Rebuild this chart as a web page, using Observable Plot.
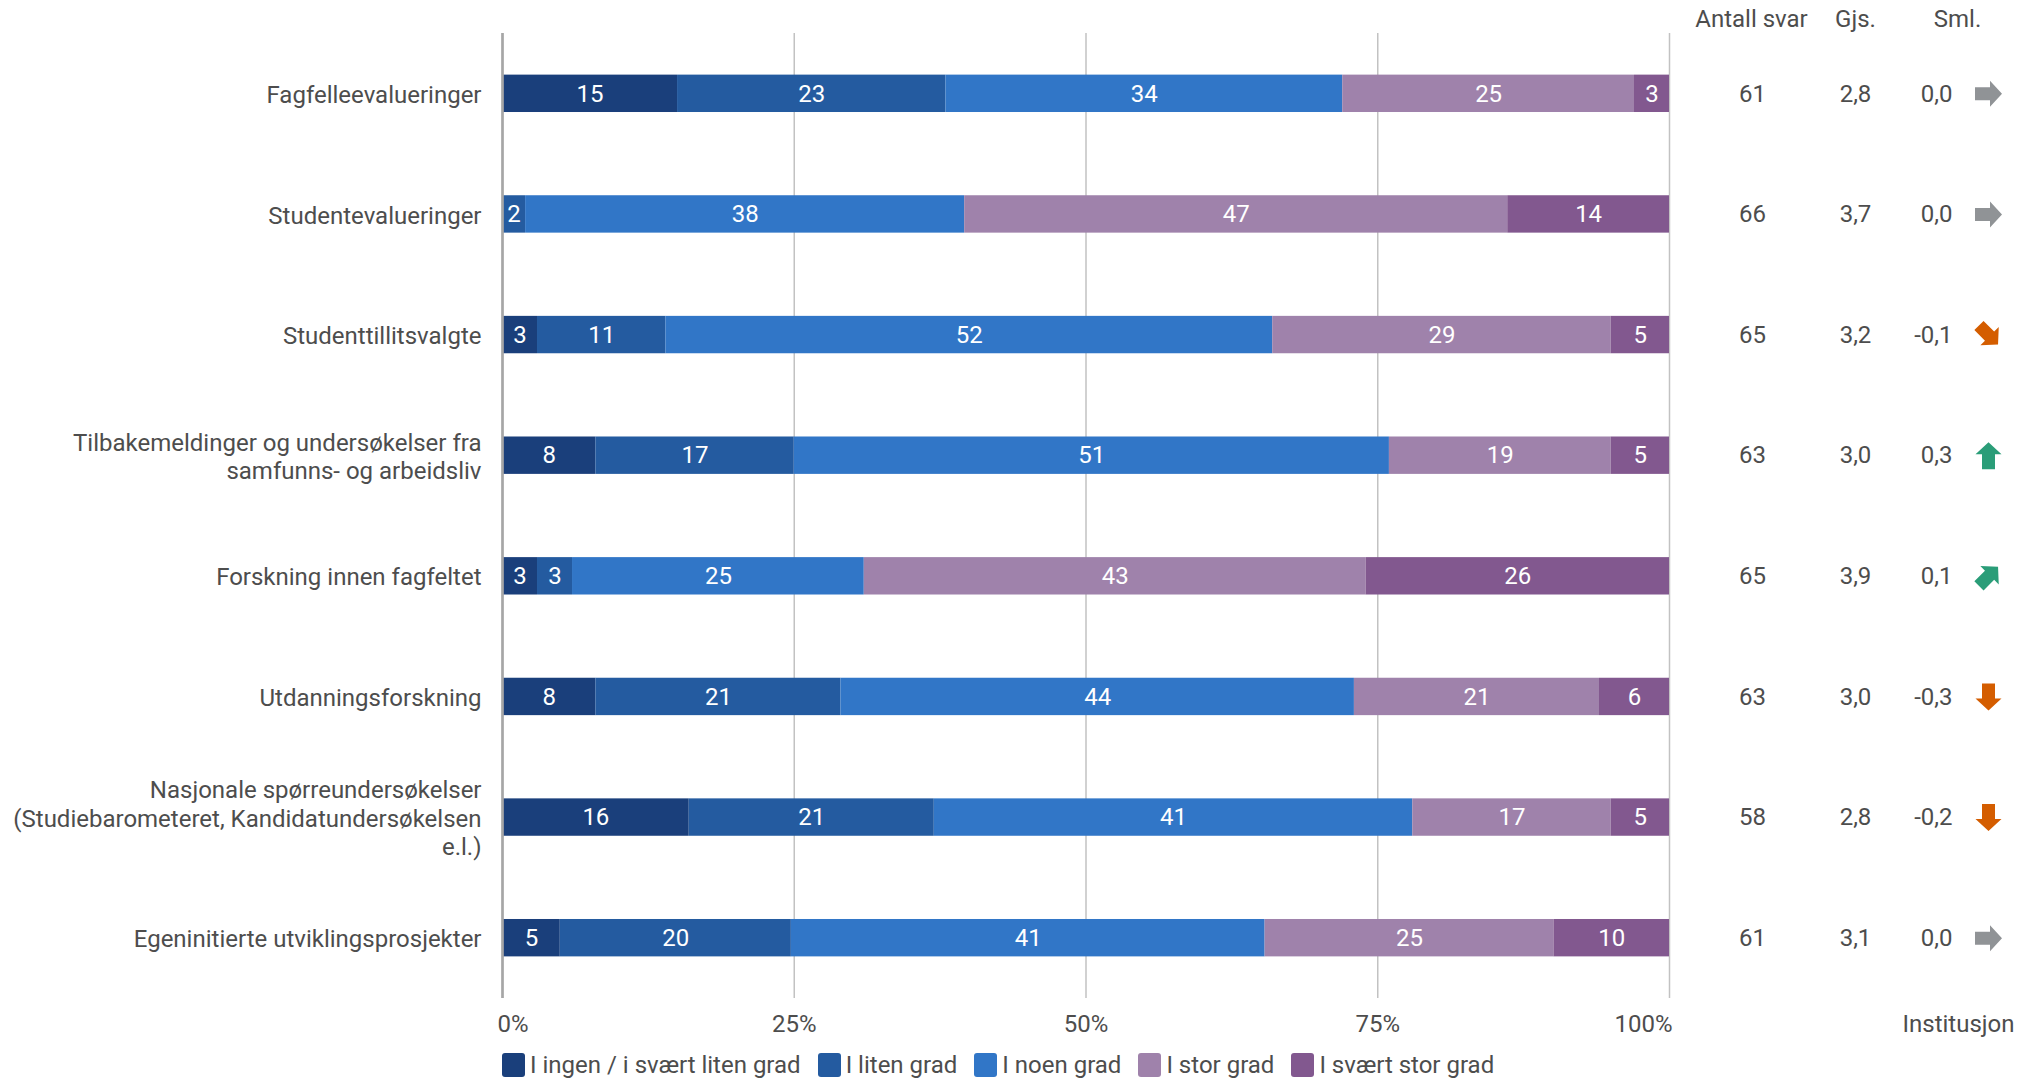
<!DOCTYPE html>
<html><head><meta charset="utf-8">
<script src="https://cdn.jsdelivr.net/npm/d3@7"></script>
<script src="https://cdn.jsdelivr.net/npm/@observablehq/plot@0.6"></script>
<style>
html,body{margin:0;padding:0;background:#fff;overflow:hidden;font-family:Roboto,"Noto Sans",sans-serif;}
#chart svg{display:block;}
#legend{display:flex;align-items:center;margin-left:502px;height:46px;font-size:24px;color:#4d4d4d;}
.item{display:flex;align-items:center;margin-right:17px;}
.sw{width:23px;height:24px;border-radius:3px;margin-right:5px;}
</style></head>
<body><div id="chart"></div><div id="legend"></div>
<script>
const categories = [
  "Fagfelleevalueringer",
  "Studentevalueringer",
  "Studenttillitsvalgte",
  "Tilbakemeldinger og undersøkelser fra\nsamfunns- og arbeidsliv",
  "Forskning innen fagfeltet",
  "Utdanningsforskning",
  "Nasjonale spørreundersøkelser\n(Studiebarometeret, Kandidatundersøkelsen\ne.l.)",
  "Egeninitierte utviklingsprosjekter"
];
const responses = ["I ingen / i svært liten grad","I liten grad","I noen grad","I stor grad","I svært stor grad"];
const ingen     = [15, 0,  3,  8,  3,  8, 16,  5];
const liten     = [23, 2, 11, 17,  3, 21, 21, 20];
const noen      = [34,38, 52, 51, 25, 44, 41, 41];
const stor      = [25,47, 29, 19, 43, 21, 17, 25];
const svaertStor= [ 3,14,  5,  5, 26,  6,  5, 10];
const antallSvar = [61,66,65,63,65,63,58,61];
const gjennomsnitt = [2.8,3.7,3.2,3.0,3.9,3.0,2.8,3.1];
const sammenligning = [0.0,0.0,-0.1,0.3,0.1,-0.3,-0.2,0.0];
const trend = ["flat","flat","ned-skrå","opp","opp-skrå","ned","ned","flat"];
const xTicks = [0,25,50,75,100];
const headers = ["Antall svar","Gjs.","Sml."];
const footLabel = "Institusjon";

const seriesByResponse = [ingen, liten, noen, stor, svaertStor];
const colors = ["#1a3f7b","#245ba0","#3176c7","#9f82ab","#82588f"];
const rows = categories.flatMap((c,i)=>responses.map((r,j)=>({category:c, response:r, value:seriesByResponse[j][i]})));
const comma = v => d3.format(".1f")(v).replace(".",",").replace("−","-");

const W = 2033, H = 1042;
const textColor = "#4d4d4d";
const arrow = {
  draw(ctx, size){
    const k = Math.sqrt(size/Math.PI)/13.5;
    ctx.moveTo(-13.5*k,-6.5*k);
    ctx.lineTo(1.5*k,-6.5*k);
    ctx.lineTo(1.5*k,-13*k);
    ctx.lineTo(13.5*k,0);
    ctx.lineTo(1.5*k,13*k);
    ctx.lineTo(1.5*k,6.5*k);
    ctx.lineTo(-13.5*k,6.5*k);
    ctx.closePath();
  }
};
const trendAngle = {"flat":0,"ned-skrå":45,"opp":-90,"opp-skrå":-45,"ned":90};
const trendColor = {"flat":"#909396","ned-skrå":"#d45d00","ned":"#d45d00","opp":"#2a9d78","opp-skrå":"#2a9d78"};
const arrowMarks = Object.keys(trendColor).map(t => Plot.dot(categories, {
  filter:(d,i)=>trend[i]===t, y:d=>d, frameAnchor:"right", dx:319,
  symbol: arrow, r:13.5, rotate: trendAngle[t], fill: trendColor[t], stroke:"none"
}));
const tickText = (vals, anchor, dx) => Plot.text(vals, {x:t=>t/100, frameAnchor:"bottom", dy:26, dx, lineAnchor:"middle", textAnchor:anchor, text:t=>t+"%", fill:textColor, fontSize:24});

const chart = Plot.plot({
  width: W, height: H,
  marginLeft: 502, marginRight: 364, marginTop: 33, marginBottom: H-998,
  style: {fontFamily:"Roboto, 'Noto Sans', sans-serif", fontSize:"24px", color:textColor, background:"#fff"},
  x: {domain:[0,1], axis:null},
  y: {domain: categories, paddingInner:0.69, paddingOuter:0.345, round:false, axis:null},
  color: {domain: responses, range: colors},
  marks: [
    Plot.ruleX(xTicks.filter(t=>t>0).map(t=>t/100), {stroke:"#c2c2c2", strokeWidth:1.5}),
    Plot.barX(rows, Plot.stackX({x:"value", y:"category", fill:"response", offset:"normalize", order: responses})),
    Plot.ruleX([0], {stroke:"#a6a6a6", strokeWidth:2.7}),
    Plot.text(rows, Plot.stackX({filter:d=>d.value>0, x:"value", y:"category", z:"response", offset:"normalize", order: responses, text:d=>String(d.value), fill:"white", fontSize:24})),
    tickText(xTicks.slice(0,1), "start", -5),
    tickText(xTicks.slice(1,-1), "middle", 0),
    tickText(xTicks.slice(-1), "end", 3),
    Plot.text(categories, {y:d=>d, frameAnchor:"left", dx:-21, textAnchor:"end", lineHeight:1.19, fill:textColor, fontSize:24}),
    Plot.text(categories, {y:d=>d, frameAnchor:"right", dx:83, textAnchor:"middle", text:(d,i)=>String(antallSvar[i]), fill:textColor, fontSize:24}),
    Plot.text(categories, {y:d=>d, frameAnchor:"right", dx:186, textAnchor:"middle", text:(d,i)=>comma(gjennomsnitt[i]), fill:textColor, fontSize:24}),
    Plot.text(categories, {y:d=>d, frameAnchor:"right", dx:283, textAnchor:"end", text:(d,i)=>comma(sammenligning[i]), fill:textColor, fontSize:24}),
    ...arrowMarks,
    Plot.text([headers[0]], {frameAnchor:"top-right", dx:82, dy:-14, lineAnchor:"middle", text:d=>d, textAnchor:"middle", fill:textColor, fontSize:24}),
    Plot.text([headers[1]], {frameAnchor:"top-right", dx:186, dy:-14, lineAnchor:"middle", text:d=>d, textAnchor:"middle", fill:textColor, fontSize:24}),
    Plot.text([headers[2]], {frameAnchor:"top-right", dx:288, dy:-14, lineAnchor:"middle", text:d=>d, textAnchor:"middle", fill:textColor, fontSize:24}),
    Plot.text([footLabel], {frameAnchor:"bottom-right", dx:289, dy:26, lineAnchor:"middle", text:d=>d, textAnchor:"middle", fill:textColor, fontSize:24})
  ]
});
document.getElementById("chart").appendChild(chart);

const legend = document.getElementById("legend");
responses.forEach((r,j)=>{
  const item = document.createElement("div"); item.className="item";
  const sw = document.createElement("div"); sw.className="sw"; sw.style.background=colors[j];
  const label = document.createElement("span"); label.textContent=r;
  item.appendChild(sw); item.appendChild(label); legend.appendChild(item);
});
</script>
</body></html>
